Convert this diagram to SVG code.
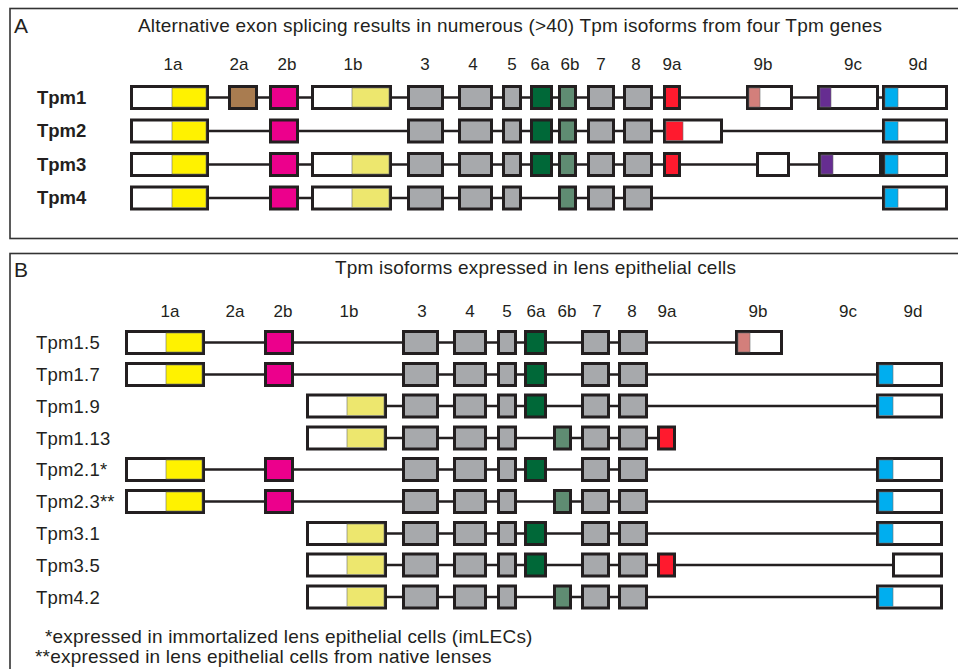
<svg xmlns="http://www.w3.org/2000/svg" width="958" height="669" viewBox="0 0 958 669">
<style>
text{font-family:"Liberation Sans",Arial,sans-serif;fill:#231f20}
.t{font-size:19px;letter-spacing:0.2px}
.lab{font-size:17px;text-anchor:middle}
.rb{font-size:18.5px;font-weight:bold}
.rl{font-size:18.5px;letter-spacing:0.2px}
.pl{font-size:21px}
.fr{fill:none;stroke:#333;stroke-width:1.6}
.ln{stroke:#231f20;stroke-width:2.6;fill:none}
.ex{stroke:#231f20;stroke-width:3}
.in{stroke:#6d6e71;stroke-width:0.6}
.w{fill:#fff}.y{fill:#fff200}.ly{fill:#ede76e}.br{fill:#a97c50}.m{fill:#ec008c}.g{fill:#a7a9ac}
.dg{fill:#006838}.gg{fill:#5f8c72}.r{fill:#ff1a2e}.pk{fill:#d37f7b}.pu{fill:#662d91}.c{fill:#00aeef}
</style>
<rect class="fr" x="10" y="8.5" width="960" height="230"/>
<rect class="fr" x="10" y="253.5" width="960" height="430"/>
<text class="pl" x="14" y="33">A</text>
<text class="t" x="138" y="32">Alternative exon splicing results in numerous (&gt;40) Tpm isoforms from four Tpm genes</text>
<g id="labelsA">
<text class="lab" x="173" y="70">1a</text><text class="lab" x="239" y="70">2a</text><text class="lab" x="287" y="70">2b</text><text class="lab" x="353" y="70">1b</text><text class="lab" x="425" y="70">3</text><text class="lab" x="473" y="70">4</text><text class="lab" x="512" y="70">5</text><text class="lab" x="540" y="70">6a</text><text class="lab" x="570" y="70">6b</text><text class="lab" x="601" y="70">7</text><text class="lab" x="636" y="70">8</text><text class="lab" x="672" y="70">9a</text><text class="lab" x="763" y="70">9b</text><text class="lab" x="853" y="70">9c</text><text class="lab" x="918" y="70">9d</text>
</g>
<text class="rb" x="37" y="103.5">Tpm1</text>
<text class="rb" x="37" y="137">Tpm2</text>
<text class="rb" x="37" y="170.5">Tpm3</text>
<text class="rb" x="37" y="204">Tpm4</text>
<text class="pl" x="14" y="277">B</text>
<text class="t" x="335" y="274">Tpm isoforms expressed in lens epithelial cells</text>
<g id="labelsB">
<text class="lab" x="170" y="317">1a</text><text class="lab" x="235" y="317">2a</text><text class="lab" x="283" y="317">2b</text><text class="lab" x="349" y="317">1b</text><text class="lab" x="422" y="317">3</text><text class="lab" x="470" y="317">4</text><text class="lab" x="507" y="317">5</text><text class="lab" x="536" y="317">6a</text><text class="lab" x="567" y="317">6b</text><text class="lab" x="597" y="317">7</text><text class="lab" x="632" y="317">8</text><text class="lab" x="667" y="317">9a</text><text class="lab" x="758" y="317">9b</text><text class="lab" x="848" y="317">9c</text><text class="lab" x="913" y="317">9d</text>
</g>
<text class="rl" x="36" y="349">Tpm1.5</text>
<text class="rl" x="36" y="381">Tpm1.7</text>
<text class="rl" x="36" y="412.5">Tpm1.9</text>
<text class="rl" x="36" y="444.5">Tpm1.13</text>
<text class="rl" x="36" y="476">Tpm2.1*</text>
<text class="rl" x="36" y="508">Tpm2.3**</text>
<text class="rl" x="36" y="540">Tpm3.1</text>
<text class="rl" x="36" y="571.5">Tpm3.5</text>
<text class="rl" x="36" y="603.5">Tpm4.2</text>
<text class="t" x="45" y="643">*expressed in immortalized lens epithelial cells (imLECs)</text>
<text class="t" x="35" y="663">**expressed in lens epithelial cells from native lenses</text>
<g id="connectors">
<line class="ln" x1="209" y1="97.5" x2="882" y2="97.5"/>
<line class="ln" x1="209" y1="131" x2="882" y2="131"/>
<line class="ln" x1="209" y1="164.5" x2="882" y2="164.5"/>
<line class="ln" x1="209" y1="198" x2="882" y2="198"/>
<line class="ln" x1="205" y1="342.5" x2="735" y2="342.5"/>
<line class="ln" x1="205" y1="374.5" x2="876" y2="374.5"/>
<line class="ln" x1="387" y1="406" x2="876" y2="406"/>
<line class="ln" x1="387" y1="438" x2="657" y2="438"/>
<line class="ln" x1="205" y1="469.5" x2="876" y2="469.5"/>
<line class="ln" x1="205" y1="501.5" x2="876" y2="501.5"/>
<line class="ln" x1="387" y1="533.5" x2="876" y2="533.5"/>
<line class="ln" x1="387" y1="565" x2="892" y2="565"/>
<line class="ln" x1="387" y1="597" x2="876" y2="597"/>
</g>
<!-- Panel A Tpm1 -->
<g id="A1-1a"><rect class="ex w" x="131.5" y="86.5" width="76" height="22"/><rect class="in y" x="172" y="88" width="34" height="19"/></g>
<g id="A1-2a"><rect class="ex br" x="229.5" y="86.5" width="27" height="22"/></g>
<g id="A1-2b"><rect class="ex m" x="270.5" y="86.5" width="27" height="22"/></g>
<g id="A1-1b"><rect class="ex w" x="312.5" y="86.5" width="78" height="22"/><rect class="in ly" x="352" y="88" width="37" height="19"/></g>
<g id="A1-3"><rect class="ex g" x="408.5" y="86.5" width="34" height="22"/></g>
<g id="A1-4"><rect class="ex g" x="459.5" y="86.5" width="32" height="22"/></g>
<g id="A1-5"><rect class="ex g" x="503.5" y="86.5" width="17" height="22"/></g>
<g id="A1-6a"><rect class="ex dg" x="531.5" y="86.5" width="20" height="22"/></g>
<g id="A1-6b"><rect class="ex gg" x="559.5" y="86.5" width="16" height="22"/></g>
<g id="A1-7"><rect class="ex g" x="588.5" y="86.5" width="25" height="22"/></g>
<g id="A1-8"><rect class="ex g" x="624.5" y="86.5" width="27" height="22"/></g>
<g id="A1-9a"><rect class="ex r" x="664.5" y="86.5" width="15" height="22"/></g>
<g id="A1-9b"><rect class="ex w" x="747.5" y="86.5" width="44" height="22"/><rect class="in pk" x="749" y="88" width="11" height="19"/></g>
<g id="A1-9c"><rect class="ex w" x="818.5" y="86.5" width="59" height="22"/><rect class="in pu" x="820" y="88" width="11" height="19"/></g>
<g id="A1-9d"><rect class="ex w" x="883.5" y="86.5" width="63" height="22"/><rect class="in c" x="885" y="88" width="13" height="19"/></g>
<!-- Panel A Tpm2 -->
<g id="A2-1a"><rect class="ex w" x="131.5" y="120" width="76" height="22"/><rect class="in y" x="172" y="121.5" width="34" height="19"/></g>
<g id="A2-2b"><rect class="ex m" x="270.5" y="120" width="27" height="22"/></g>
<g id="A2-3"><rect class="ex g" x="408.5" y="120" width="34" height="22"/></g>
<g id="A2-4"><rect class="ex g" x="459.5" y="120" width="32" height="22"/></g>
<g id="A2-5"><rect class="ex g" x="503.5" y="120" width="17" height="22"/></g>
<g id="A2-6a"><rect class="ex dg" x="531.5" y="120" width="20" height="22"/></g>
<g id="A2-6b"><rect class="ex gg" x="559.5" y="120" width="16" height="22"/></g>
<g id="A2-7"><rect class="ex g" x="588.5" y="120" width="25" height="22"/></g>
<g id="A2-8"><rect class="ex g" x="624.5" y="120" width="27" height="22"/></g>
<g id="A2-9a"><rect class="ex w" x="664.5" y="120" width="57" height="22"/><rect class="in r" x="666" y="121.5" width="17" height="19"/></g>
<g id="A2-9d"><rect class="ex w" x="883.5" y="120" width="63" height="22"/><rect class="in c" x="885" y="121.5" width="13" height="19"/></g>
<!-- Panel A Tpm3 -->
<g id="A3-1a"><rect class="ex w" x="131.5" y="153.5" width="76" height="22"/><rect class="in y" x="172" y="155" width="34" height="19"/></g>
<g id="A3-2b"><rect class="ex m" x="270.5" y="153.5" width="27" height="22"/></g>
<g id="A3-1b"><rect class="ex w" x="312.5" y="153.5" width="78" height="22"/><rect class="in ly" x="352" y="155" width="37" height="19"/></g>
<g id="A3-3"><rect class="ex g" x="408.5" y="153.5" width="34" height="22"/></g>
<g id="A3-4"><rect class="ex g" x="459.5" y="153.5" width="32" height="22"/></g>
<g id="A3-5"><rect class="ex g" x="503.5" y="153.5" width="17" height="22"/></g>
<g id="A3-6a"><rect class="ex dg" x="531.5" y="153.5" width="20" height="22"/></g>
<g id="A3-6b"><rect class="ex gg" x="559.5" y="153.5" width="16" height="22"/></g>
<g id="A3-7"><rect class="ex g" x="588.5" y="153.5" width="25" height="22"/></g>
<g id="A3-8"><rect class="ex g" x="624.5" y="153.5" width="27" height="22"/></g>
<g id="A3-9a"><rect class="ex r" x="664.5" y="153.5" width="15" height="22"/></g>
<g id="A3-9b"><rect class="ex w" x="757.5" y="153.5" width="31" height="22"/></g>
<g id="A3-9c"><rect class="ex w" x="819.5" y="153.5" width="61" height="22"/><rect class="in pu" x="821" y="155" width="12" height="19"/></g>
<g id="A3-9d"><rect class="ex w" x="883.5" y="153.5" width="63" height="22"/><rect class="in c" x="885" y="155" width="13" height="19"/></g>
<!-- Panel A Tpm4 -->
<g id="A4-1a"><rect class="ex w" x="131.5" y="187" width="76" height="22"/><rect class="in y" x="172" y="188.5" width="34" height="19"/></g>
<g id="A4-2b"><rect class="ex m" x="270.5" y="187" width="27" height="22"/></g>
<g id="A4-1b"><rect class="ex w" x="312.5" y="187" width="78" height="22"/><rect class="in ly" x="352" y="188.5" width="37" height="19"/></g>
<g id="A4-3"><rect class="ex g" x="408.5" y="187" width="34" height="22"/></g>
<g id="A4-4"><rect class="ex g" x="459.5" y="187" width="32" height="22"/></g>
<g id="A4-5"><rect class="ex g" x="503.5" y="187" width="17" height="22"/></g>
<g id="A4-6b"><rect class="ex gg" x="559.5" y="187" width="16" height="22"/></g>
<g id="A4-7"><rect class="ex g" x="588.5" y="187" width="25" height="22"/></g>
<g id="A4-8"><rect class="ex g" x="624.5" y="187" width="27" height="22"/></g>
<g id="A4-9d"><rect class="ex w" x="883.5" y="187" width="63" height="22"/><rect class="in c" x="885" y="188.5" width="13" height="19"/></g>
<!-- Panel B Tpm1.5 c=342.5 -->
<g id="B15-1a"><rect class="ex w" x="126.5" y="331.5" width="77" height="22"/><rect class="in y" x="166" y="333" width="36" height="19"/></g>
<g id="B15-2b"><rect class="ex m" x="265.5" y="331.5" width="27" height="22"/></g>
<g id="B15-3"><rect class="ex g" x="403.5" y="331.5" width="34" height="22"/></g>
<g id="B15-4"><rect class="ex g" x="454.5" y="331.5" width="31" height="22"/></g>
<g id="B15-5"><rect class="ex g" x="498.5" y="331.5" width="17" height="22"/></g>
<g id="B15-6a"><rect class="ex dg" x="525.5" y="331.5" width="20" height="22"/></g>
<g id="B15-7"><rect class="ex g" x="582.5" y="331.5" width="26" height="22"/></g>
<g id="B15-8"><rect class="ex g" x="619.5" y="331.5" width="27" height="22"/></g>
<g id="B15-9b"><rect class="ex w" x="736.5" y="331.5" width="45" height="22"/><rect class="in pk" x="738" y="333" width="12" height="19"/></g>
<!-- Tpm1.7 c=374.5 -->
<g id="B17-1a"><rect class="ex w" x="126.5" y="363.5" width="77" height="22"/><rect class="in y" x="166" y="365" width="36" height="19"/></g>
<g id="B17-2b"><rect class="ex m" x="265.5" y="363.5" width="27" height="22"/></g>
<g id="B17-3"><rect class="ex g" x="403.5" y="363.5" width="34" height="22"/></g>
<g id="B17-4"><rect class="ex g" x="454.5" y="363.5" width="31" height="22"/></g>
<g id="B17-5"><rect class="ex g" x="498.5" y="363.5" width="17" height="22"/></g>
<g id="B17-6a"><rect class="ex dg" x="525.5" y="363.5" width="20" height="22"/></g>
<g id="B17-7"><rect class="ex g" x="582.5" y="363.5" width="26" height="22"/></g>
<g id="B17-8"><rect class="ex g" x="619.5" y="363.5" width="27" height="22"/></g>
<g id="B17-9d"><rect class="ex w" x="877.5" y="363.5" width="64" height="22"/><rect class="in c" x="879" y="365" width="14" height="19"/></g>
<!-- Tpm1.9 c=406 -->
<g id="B19-1b"><rect class="ex w" x="307.5" y="395" width="78" height="22"/><rect class="in ly" x="347" y="396.5" width="37" height="19"/></g>
<g id="B19-3"><rect class="ex g" x="403.5" y="395" width="34" height="22"/></g>
<g id="B19-4"><rect class="ex g" x="454.5" y="395" width="31" height="22"/></g>
<g id="B19-5"><rect class="ex g" x="498.5" y="395" width="17" height="22"/></g>
<g id="B19-6a"><rect class="ex dg" x="525.5" y="395" width="20" height="22"/></g>
<g id="B19-7"><rect class="ex g" x="582.5" y="395" width="26" height="22"/></g>
<g id="B19-8"><rect class="ex g" x="619.5" y="395" width="27" height="22"/></g>
<g id="B19-9d"><rect class="ex w" x="877.5" y="395" width="64" height="22"/><rect class="in c" x="879" y="396.5" width="14" height="19"/></g>
<!-- Tpm1.13 c=438 -->
<g id="B113-1b"><rect class="ex w" x="307.5" y="427" width="78" height="22"/><rect class="in ly" x="347" y="428.5" width="37" height="19"/></g>
<g id="B113-3"><rect class="ex g" x="403.5" y="427" width="34" height="22"/></g>
<g id="B113-4"><rect class="ex g" x="454.5" y="427" width="31" height="22"/></g>
<g id="B113-5"><rect class="ex g" x="498.5" y="427" width="17" height="22"/></g>
<g id="B113-6b"><rect class="ex gg" x="554.5" y="427" width="16" height="22"/></g>
<g id="B113-7"><rect class="ex g" x="582.5" y="427" width="26" height="22"/></g>
<g id="B113-8"><rect class="ex g" x="619.5" y="427" width="27" height="22"/></g>
<g id="B113-9a"><rect class="ex r" x="658.5" y="427" width="16" height="22"/></g>
<!-- Tpm2.1 c=469.5 -->
<g id="B21-1a"><rect class="ex w" x="126.5" y="458.5" width="77" height="22"/><rect class="in y" x="166" y="460" width="36" height="19"/></g>
<g id="B21-2b"><rect class="ex m" x="265.5" y="458.5" width="27" height="22"/></g>
<g id="B21-3"><rect class="ex g" x="403.5" y="458.5" width="34" height="22"/></g>
<g id="B21-4"><rect class="ex g" x="454.5" y="458.5" width="31" height="22"/></g>
<g id="B21-5"><rect class="ex g" x="498.5" y="458.5" width="17" height="22"/></g>
<g id="B21-6a"><rect class="ex dg" x="525.5" y="458.5" width="20" height="22"/></g>
<g id="B21-7"><rect class="ex g" x="582.5" y="458.5" width="26" height="22"/></g>
<g id="B21-8"><rect class="ex g" x="619.5" y="458.5" width="27" height="22"/></g>
<g id="B21-9d"><rect class="ex w" x="877.5" y="458.5" width="64" height="22"/><rect class="in c" x="879" y="460" width="14" height="19"/></g>
<!-- Tpm2.3 c=501.5 -->
<g id="B23-1a"><rect class="ex w" x="126.5" y="490.5" width="77" height="22"/><rect class="in y" x="166" y="492" width="36" height="19"/></g>
<g id="B23-2b"><rect class="ex m" x="265.5" y="490.5" width="27" height="22"/></g>
<g id="B23-3"><rect class="ex g" x="403.5" y="490.5" width="34" height="22"/></g>
<g id="B23-4"><rect class="ex g" x="454.5" y="490.5" width="31" height="22"/></g>
<g id="B23-5"><rect class="ex g" x="498.5" y="490.5" width="17" height="22"/></g>
<g id="B23-6b"><rect class="ex gg" x="554.5" y="490.5" width="16" height="22"/></g>
<g id="B23-7"><rect class="ex g" x="582.5" y="490.5" width="26" height="22"/></g>
<g id="B23-8"><rect class="ex g" x="619.5" y="490.5" width="27" height="22"/></g>
<g id="B23-9d"><rect class="ex w" x="877.5" y="490.5" width="64" height="22"/><rect class="in c" x="879" y="492" width="14" height="19"/></g>
<!-- Tpm3.1 c=533.5 -->
<g id="B31-1b"><rect class="ex w" x="307.5" y="522.5" width="78" height="22"/><rect class="in ly" x="347" y="524" width="37" height="19"/></g>
<g id="B31-3"><rect class="ex g" x="403.5" y="522.5" width="34" height="22"/></g>
<g id="B31-4"><rect class="ex g" x="454.5" y="522.5" width="31" height="22"/></g>
<g id="B31-5"><rect class="ex g" x="498.5" y="522.5" width="17" height="22"/></g>
<g id="B31-6a"><rect class="ex dg" x="525.5" y="522.5" width="20" height="22"/></g>
<g id="B31-7"><rect class="ex g" x="582.5" y="522.5" width="26" height="22"/></g>
<g id="B31-8"><rect class="ex g" x="619.5" y="522.5" width="27" height="22"/></g>
<g id="B31-9d"><rect class="ex w" x="877.5" y="522.5" width="64" height="22"/><rect class="in c" x="879" y="524" width="14" height="19"/></g>
<!-- Tpm3.5 c=565 -->
<g id="B35-1b"><rect class="ex w" x="307.5" y="554" width="78" height="22"/><rect class="in ly" x="347" y="555.5" width="37" height="19"/></g>
<g id="B35-3"><rect class="ex g" x="403.5" y="554" width="34" height="22"/></g>
<g id="B35-4"><rect class="ex g" x="454.5" y="554" width="31" height="22"/></g>
<g id="B35-5"><rect class="ex g" x="498.5" y="554" width="17" height="22"/></g>
<g id="B35-6a"><rect class="ex dg" x="525.5" y="554" width="20" height="22"/></g>
<g id="B35-7"><rect class="ex g" x="582.5" y="554" width="26" height="22"/></g>
<g id="B35-8"><rect class="ex g" x="619.5" y="554" width="27" height="22"/></g>
<g id="B35-9a"><rect class="ex r" x="658.5" y="554" width="16" height="22"/></g>
<g id="B35-end"><rect class="ex w" x="893.5" y="554" width="48" height="22"/></g>
<!-- Tpm4.2 c=597 -->
<g id="B42-1b"><rect class="ex w" x="307.5" y="586" width="78" height="22"/><rect class="in ly" x="347" y="587.5" width="37" height="19"/></g>
<g id="B42-3"><rect class="ex g" x="403.5" y="586" width="34" height="22"/></g>
<g id="B42-4"><rect class="ex g" x="454.5" y="586" width="31" height="22"/></g>
<g id="B42-5"><rect class="ex g" x="498.5" y="586" width="17" height="22"/></g>
<g id="B42-6b"><rect class="ex gg" x="554.5" y="586" width="16" height="22"/></g>
<g id="B42-7"><rect class="ex g" x="582.5" y="586" width="26" height="22"/></g>
<g id="B42-8"><rect class="ex g" x="619.5" y="586" width="27" height="22"/></g>
<g id="B42-9d"><rect class="ex w" x="877.5" y="586" width="64" height="22"/><rect class="in c" x="879" y="587.5" width="14" height="19"/></g>
</svg>
